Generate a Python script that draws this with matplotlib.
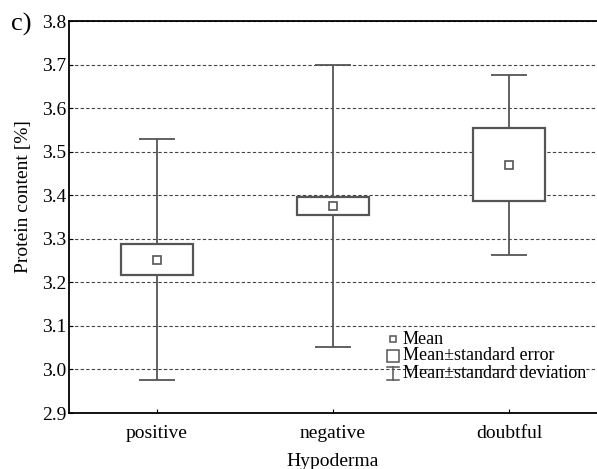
import matplotlib
matplotlib.use('Agg')
import matplotlib.pyplot as plt

plt.rcParams['font.family'] = ['Liberation Serif', 'DejaVu Serif']

groups = ['positive', 'negative', 'doubtful']
means = [3.252, 3.376, 3.470]
stdErr = [0.035, 0.021, 0.084]
stdDev = [0.277, 0.324, 0.207]

EDGE = '#555555'


def buildPlot():
    fig = plt.figure(figsize=(5.97, 4.69), dpi=100)
    # axes runs off the right edge, like in the source picture
    ax = fig.add_axes([69 / 597, 1 - 413 / 469, 528 / 597, 392 / 469])

    x = list(range(len(groups)))
    ax.errorbar(x, means, yerr=stdDev, fmt='none', ecolor=EDGE,
                elinewidth=1.3, capsize=13, capthick=1.3, zorder=2)
    bottoms = [m - e for m, e in zip(means, stdErr)]
    heights = [2 * e for e in stdErr]
    ax.bar(x, heights, bottom=bottoms, width=0.41, color='white',
           edgecolor=EDGE, linewidth=1.6, zorder=3)
    ax.plot(x, means, linestyle='none', marker='s', markersize=6,
            markerfacecolor='white', markeredgecolor=EDGE,
            markeredgewidth=1.2, zorder=4)

    ax.set_xlim(-0.5, 2.5)
    ax.set_ylim(2.9, 3.8)
    ax.set_yticks([2.9 + 0.1 * i for i in range(10)])
    ax.set_yticklabels(['%.1f' % (2.9 + 0.1 * i) for i in range(10)])
    ax.set_xticks(x)
    ax.set_xticklabels(groups)
    ax.tick_params(direction='in', length=3, labelsize=14, colors='black')
    ax.tick_params(axis='y', pad=2)
    ax.tick_params(axis='x', pad=8.5)

    ax.yaxis.grid(True, linestyle=(0, (3, 2)), color='#444444', linewidth=0.8)
    ax.set_axisbelow(True)
    ax.spines['right'].set_visible(False)
    for s in ['left', 'bottom', 'top']:
        ax.spines[s].set_linewidth(1.3)

    ax.set_xlabel('Hypoderma', fontsize=14, labelpad=8)
    ax.set_ylabel('Protein content [%]', fontsize=14)
    ax.yaxis.set_label_coords(-0.070, 0.551)
    fig.text(11 / 597, 1 - 24 / 469, 'c)', fontsize=19, va='center', ha='left')

    # legend, drawn by hand
    tr = ax.transAxes
    lx = (393 - 69) / 528
    def ay(py):
        return (413 - py) / 392
    ax.plot([lx], [ay(339)], transform=tr, marker='s', markersize=5,
            markerfacecolor='white', markeredgecolor=EDGE, markeredgewidth=1.1,
            clip_on=False, zorder=5)
    ax.plot([lx], [ay(356)], transform=tr, marker='s', markersize=9,
            markerfacecolor='white', markeredgecolor=EDGE, markeredgewidth=1.1,
            clip_on=False, zorder=5)
    ax.plot([lx, lx], [ay(367), ay(380)], transform=tr, color=EDGE, lw=1.1, zorder=5)
    dx = 6 / 528
    for py in (367, 380):
        ax.plot([lx - dx, lx + dx], [ay(py), ay(py)], transform=tr, color=EDGE,
                lw=1.1, zorder=5)
    tx = (403 - 69) / 528
    labels = ['Mean', 'Mean\u00b1standard error', 'Mean\u00b1standard deviation']
    for py, lab in zip((339, 356, 374), labels):
        ax.text(tx, ay(py), lab, transform=tr, fontsize=13, va='center',
                ha='left', zorder=5)

    fig.savefig('out.png', dpi=100)


if __name__ == '__main__':
    buildPlot()
